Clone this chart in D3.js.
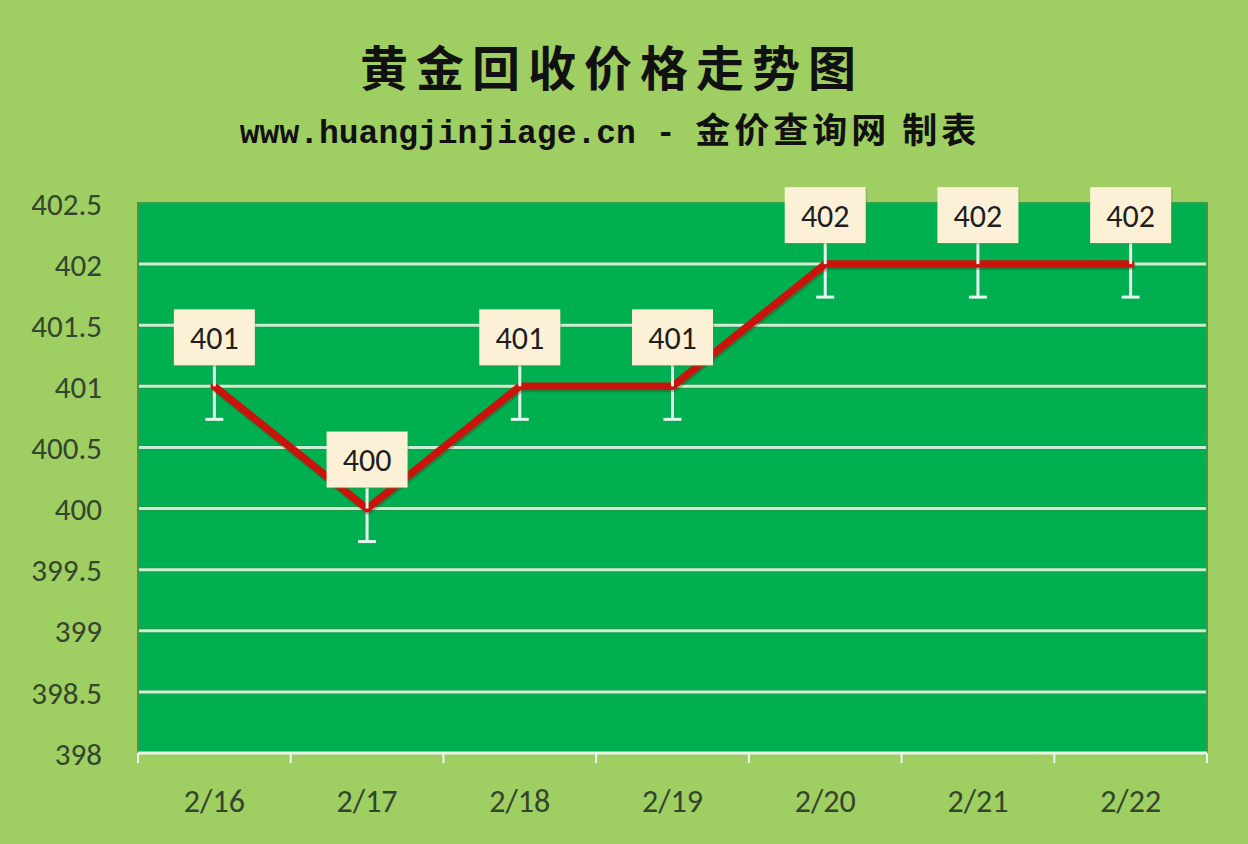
<!DOCTYPE html>
<html><head><meta charset="utf-8">
<script src="https://cdn.jsdelivr.net/npm/d3@7"></script>
<style>html,body{margin:0;padding:0;background:#9fce62;overflow:hidden}</style>
</head><body>
<svg id="chart" width="1248" height="844"></svg>
<script>
const dates = ["2/16","2/17","2/18","2/19","2/20","2/21","2/22"];
const prices = [401,400,401,401,402,402,402];
const errorMinus = [0.27,0.27,0.27,0.27,0.27,0.27,0.27];
const yTicks = [398,398.5,399,399.5,400,400.5,401,401.5,402,402.5];
const titleText = "黄金回收价格走势图";
const subtitleUrl = "www.huangjinjiage.cn - ";
const subtitleCn = "金价查询网 制表";

const W = 1248, H = 844;
const m = {left:138, right:1207, top:203, bottom:753};
const svg = d3.select("#chart");
svg.append("rect").attr("width",W).attr("height",H).attr("fill","#9fce62");

const x = d3.scaleBand().domain(dates).range([m.left,m.right]).padding(0);
const y = d3.scaleLinear().domain([398,402.5]).range([m.bottom,m.top]);
const numFont = "Carlito, Lato, 'Open Sans', sans-serif";

// plot area
svg.append("rect").attr("x",m.left).attr("y",m.top).attr("width",m.right-m.left).attr("height",m.bottom-m.top)
  .attr("fill","#00b050").attr("stroke","#3f9a48").attr("stroke-width",2);

// gridlines
const gridVals = yTicks.filter(d=>d>398 && d<402.5);
svg.append("g").selectAll("line").data(gridVals).join("line")
  .attr("x1",m.left+1).attr("x2",m.right-1).attr("y1",d=>y(d)).attr("y2",d=>y(d))
  .attr("stroke","#2f8f3f").attr("stroke-width",5).attr("opacity",0.6);
svg.append("g").selectAll("line").data(gridVals).join("line")
  .attr("x1",m.left+1).attr("x2",m.right-1).attr("y1",d=>y(d)).attr("y2",d=>y(d))
  .attr("stroke","#cdeed6").attr("stroke-width",3);

// y axis labels
const yAxis = d3.axisLeft(y).tickValues(yTicks).tickSize(0).tickPadding(0).tickFormat(d=>String(d));
const gy = svg.append("g").attr("transform",`translate(102,0)`).call(yAxis);
gy.select(".domain").remove();
gy.selectAll("text").attr("font-family",numFont).attr("font-size",31)
  .attr("fill","#33452c").attr("dy","0.36em");

// x axis
const xAxis = d3.axisBottom(x).tickSize(0).tickPadding(0);
const gx = svg.append("g").attr("transform",`translate(0,${m.bottom})`).call(xAxis);
gx.select(".domain").remove();
gx.selectAll("text").attr("font-family",numFont).attr("font-size",32)
  .attr("fill","#33452c").attr("dy","0").attr("y",59);
svg.append("line").attr("x1",m.left).attr("x2",m.right).attr("y1",m.bottom).attr("y2",m.bottom)
  .attr("stroke","#e8f6ea").attr("stroke-width",3);
const bounds = dates.map(d=>x(d)).concat([m.right]);
svg.append("g").selectAll("line").data(bounds).join("line")
  .attr("x1",d=>d).attr("x2",d=>d).attr("y1",m.bottom).attr("y2",m.bottom+10)
  .attr("stroke","#eef8ee").attr("stroke-width",2);

const cx = d => x(d) + x.bandwidth()/2;
const pts = dates.map((d,i)=>({d, v:prices[i], e:errorMinus[i]}));

// error bars
const eb = svg.append("g").attr("stroke","#e4f6ee").attr("stroke-width",3);
pts.forEach(p=>{
  eb.append("line").attr("x1",cx(p.d)).attr("x2",cx(p.d)).attr("y1",y(p.v)).attr("y2",y(p.v-p.e));
  eb.append("line").attr("x1",cx(p.d)-9).attr("x2",cx(p.d)+9).attr("y1",y(p.v-p.e)).attr("y2",y(p.v-p.e));
});

// line
const line = d3.line().x(p=>cx(p.d)).y(p=>y(p.v));
svg.append("path").datum(pts).attr("d",line).attr("fill","none").attr("stroke","#5a1a10")
  .attr("stroke-width",8).attr("opacity",0.3).attr("transform","translate(1,2)")
  .attr("stroke-linejoin","round").attr("stroke-linecap","round");
svg.append("path").datum(pts).attr("d",line).attr("fill","none").attr("stroke","#c8140c")
  .attr("stroke-width",7.5).attr("stroke-linejoin","round").attr("stroke-linecap","round");

// labels with leader lines
const lab = svg.append("g");
pts.forEach(p=>{
  const px = cx(p.d), py = y(p.v);
  const bw = 81, bh = 56, gap = 21;
  lab.append("line").attr("x1",px).attr("x2",px).attr("y1",py-gap).attr("y2",py)
    .attr("stroke","#e4f6ee").attr("stroke-width",3);
  lab.append("rect").attr("x",px-bw/2+1.5).attr("y",py-gap-bh+1.5).attr("width",bw).attr("height",bh)
    .attr("fill","#4c8a3a").attr("opacity",0.3);
  lab.append("rect").attr("x",px-bw/2).attr("y",py-gap-bh).attr("width",bw).attr("height",bh)
    .attr("fill","#fcf1d6");
  lab.append("text").attr("x",px).attr("y",py-gap-bh/2).attr("dy","0.36em").attr("text-anchor","middle")
    .attr("font-family",numFont).attr("font-size",32).attr("fill","#1e1e1e")
    .text(p.v);
});

// title
svg.append("text").attr("x",612).attr("y",86).attr("text-anchor","middle")
  .attr("font-family","'Noto Sans CJK SC', sans-serif").attr("font-weight",700).attr("font-size",48)
  .attr("letter-spacing",8).attr("fill","#111").text(titleText);
const sub = svg.append("text").attr("x",610).attr("y",143).attr("text-anchor","middle").attr("fill","#111").attr("font-weight",700);
sub.append("tspan").attr("font-family","'Liberation Mono', 'DejaVu Sans Mono', monospace").attr("font-size",33).text(subtitleUrl);
sub.append("tspan").attr("font-family","'Noto Sans CJK SC', sans-serif").attr("font-size",35).attr("letter-spacing",4).text(subtitleCn);
</script>
</body></html>
